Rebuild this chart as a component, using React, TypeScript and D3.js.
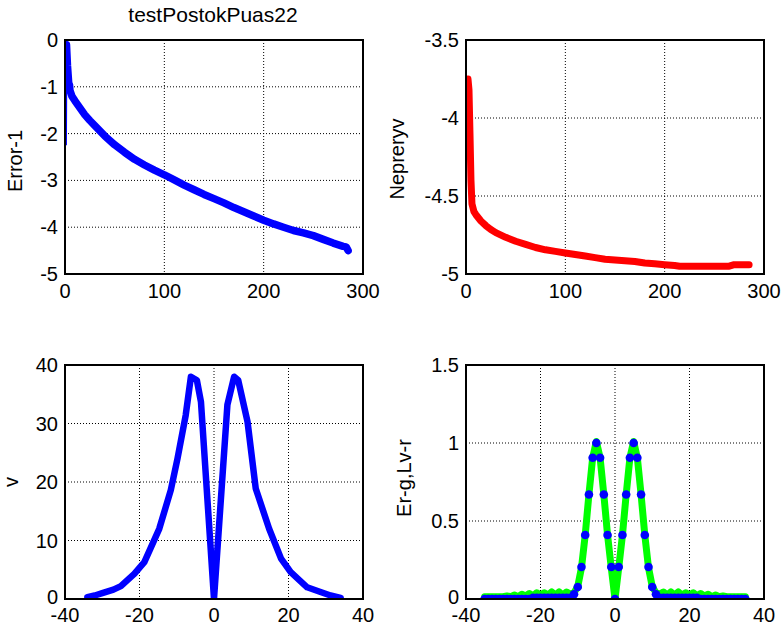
import React from "react";
import * as d3 from "d3";

// ---------- Data ----------
const titleText = "testPostokPuas22";

// Panel 1: Error-1
const errStartX = [0.7, 1.2, 2.5, 4];
const errStartY = [-2.25, 0, -0.6, -1.0];
const errX = [1.5, 2.5, 4, 4.5, 5, 7, 10, 15, 20, 25, 30, 40, 50, 60, 70, 80, 90, 100, 110, 120, 130, 140, 150, 160, 170, 180, 190, 200, 210, 220, 230, 240, 250, 260, 270, 280, 283, 285];
const errY = [-0.1, -0.55, -1.0, -0.95, -1.08, -1.2, -1.3, -1.45, -1.6, -1.72, -1.83, -2.05, -2.24, -2.4, -2.55, -2.67, -2.78, -2.88, -2.99, -3.1, -3.2, -3.3, -3.39, -3.48, -3.58, -3.67, -3.76, -3.85, -3.93, -4.0, -4.07, -4.12, -4.18, -4.26, -4.34, -4.41, -4.42, -4.5];

// Panel 2: Nepreryv
const nepX = [2, 3, 4, 5, 6, 8, 10, 15, 20, 25, 30, 40, 50, 60, 70, 80, 90, 100, 110, 120, 130, 140, 150, 160, 170, 180, 190, 200, 210, 215, 265, 270, 285];
const nepY = [-3.75, -3.82, -4.1, -4.4, -4.55, -4.6, -4.62, -4.66, -4.69, -4.715, -4.735, -4.765, -4.79, -4.81, -4.83, -4.845, -4.855, -4.865, -4.875, -4.885, -4.895, -4.905, -4.91, -4.915, -4.92, -4.93, -4.935, -4.94, -4.945, -4.95, -4.95, -4.94, -4.94];

// Panel 3: v
const vX = [-34, -32, -30, -27, -25, -21.4, -18.7, -14.7, -11.6, -9.8, -7.6, -6.2, -4.6, -3.5, 0, 3.6, 5.4, 6.5, 9, 11.2, 14.8, 18, 20.6, 25, 28.6, 31.3, 34];
const vY = [0.3, 0.6, 1.0, 1.6, 2.2, 4.3, 6.3, 12, 18.6, 24, 31.4, 38, 37.4, 33.7, 0, 33.2, 38, 37.4, 30.3, 18.9, 12, 6.9, 4.6, 2, 1.2, 0.6, 0.2];

// Panel 4: Er (green) and Lv (blue dots), x = -35..35
const egX = d3.range(-35, 36);
const erY = [
  // -35 .. -12
  0.015, 0.015, 0.015, 0.015, 0.015, 0.015, 0.02, 0.015, 0.025, 0.015, 0.03, 0.02, 0.035, 0.02, 0.04, 0.025, 0.04, 0.025, 0.045, 0.025, 0.045, 0.025, 0.045, 0.03,
  // -11 .. -1
  0.04, 0.08, 0.2, 0.41, 0.67, 0.905, 1.01, 0.905, 0.67, 0.41, 0.2,
  // 0
  0.0,
  // 1 .. 11
  0.2, 0.41, 0.67, 0.905, 1.01, 0.905, 0.67, 0.41, 0.2, 0.08, 0.04,
  // 12 .. 35
  0.03, 0.045, 0.025, 0.045, 0.025, 0.045, 0.025, 0.04, 0.025, 0.04, 0.02, 0.035, 0.02, 0.03, 0.015, 0.025, 0.015, 0.02, 0.015, 0.015, 0.015, 0.015, 0.015, 0.015
];
const lvY = [
  // -35 .. -12
  0, 0, 0, 0, 0, 0, 0, 0, 0, 0, 0, 0, 0, 0.008, 0.008, 0.008, 0.008, 0.008, 0.008, 0.008, 0.008, 0.008, 0.008, 0.008,
  // -11 .. -1
  0.03, 0.077, 0.205, 0.41, 0.67, 0.905, 1.0, 0.905, 0.67, 0.41, 0.205,
  // 0
  0.0,
  // 1 .. 11
  0.205, 0.41, 0.67, 0.905, 1.0, 0.905, 0.67, 0.41, 0.205, 0.077, 0.03,
  // 12 .. 35
  0.008, 0.008, 0.008, 0.008, 0.008, 0.008, 0.008, 0.008, 0.008, 0.008, 0.008, 0, 0, 0, 0, 0, 0, 0, 0, 0, 0, 0, 0, 0
];

const tlXTicks = [0, 100, 200, 300];
const tlYTicks = [0, -1, -2, -3, -4, -5];
const trYTicks = [-3.5, -4, -4.5, -5];
const bXTicks = [-40, -20, 0, 20, 40];
const blYTicks = [0, 10, 20, 30, 40];
const brYTicks = [0, 0.5, 1, 1.5];

const FONT = "'Liberation Sans', Arial, sans-serif";

type PanelProps = {
  left: number; top: number; width: number; height: number;
  xDomain: [number, number]; yDomain: [number, number];
  xTicks: number[]; yTicks: number[];
  yLabel: string; yLabelX: number; yLabelDy: number;
  xTickDy: number;
  children: (x: d3.ScaleLinear<number, number>, y: d3.ScaleLinear<number, number>) => React.ReactNode;
};

function Panel(p: PanelProps) {
  const x = d3.scaleLinear().domain(p.xDomain).range([p.left, p.left + p.width]);
  const y = d3.scaleLinear().domain(p.yDomain).range([p.top + p.height, p.top]);
  const clipId = `clip-${p.left}-${p.top}`;
  const fmt = (v: number) => String(v);
  return (
    <g>
      <defs>
        <clipPath id={clipId}>
          <rect x={p.left} y={p.top} width={p.width} height={p.height} />
        </clipPath>
      </defs>
      {p.xTicks.filter(t => t !== p.xDomain[0] && t !== p.xDomain[1]).map(t => (
        <line key={"gx" + t} x1={x(t)} x2={x(t)} y1={p.top} y2={p.top + p.height}
          stroke="#000" strokeWidth={1} strokeDasharray="1,2" />
      ))}
      {p.yTicks.filter(t => t !== p.yDomain[0] && t !== p.yDomain[1]).map(t => (
        <line key={"gy" + t} y1={y(t)} y2={y(t)} x1={p.left} x2={p.left + p.width}
          stroke="#000" strokeWidth={1} strokeDasharray="1,2" />
      ))}
      <g clipPath={`url(#${clipId})`}>{p.children(x, y)}</g>
      <rect x={p.left} y={p.top} width={p.width} height={p.height} fill="none" stroke="#000" strokeWidth={2} />
      {p.xTicks.map(t => (
        <text key={"tx" + t} x={x(t)} y={p.top + p.height + p.xTickDy} textAnchor="middle"
          fontFamily={FONT} fontSize={20} fill="#000">{fmt(t)}</text>
      ))}
      {p.yTicks.map(t => (
        <text key={"ty" + t} x={p.left - 7} y={y(t)} dy={t === p.yDomain[0] && p.xDomain[0] < 0 ? "0.25em" : "0.35em"} textAnchor="end"
          fontFamily={FONT} fontSize={20} fill="#000">{fmt(t)}</text>
      ))}
      <text transform={`translate(${p.yLabelX},${p.top + p.height / 2 + p.yLabelDy}) rotate(-90)`} textAnchor="middle"
        fontFamily={FONT} fontSize={20} fill="#000">{p.yLabel}</text>
    </g>
  );
}

export default function App() {
  const W = 784, H = 630;
  return (
    <svg width={W} height={H} style={{ position: "absolute", left: 0, top: 0, background: "#fff" }}>
      <rect width={W} height={H} fill="#fff" />
      <text x={213} y={22} textAnchor="middle" fontFamily={FONT} fontSize={21} fill="#000">{titleText}</text>

      <Panel left={65} top={40} width={298} height={234} xDomain={[0, 300]} yDomain={[-5, 0]}
        xTicks={tlXTicks} yTicks={tlYTicks} yLabel="Error-1" yLabelX={22} yLabelDy={4} xTickDy={24}>
        {(x, y) => {
          const l1 = d3.line<number>().x(d => x(d)).y((_, i) => y(errStartY[i]));
          const l2 = d3.line<number>().x(d => x(d)).y((_, i) => y(errY[i]));
          return (
            <g>
              <path d={l1(errStartX) || ""} fill="none" stroke="#0000ff" strokeWidth={2.5} strokeLinejoin="round" />
              <path d={l2(errX) || ""} fill="none" stroke="#0000ff" strokeWidth={7.5} strokeLinejoin="round" strokeLinecap="round" />
            </g>
          );
        }}
      </Panel>

      <Panel left={466} top={40} width={298} height={234} xDomain={[0, 300]} yDomain={[-5, -3.5]}
        xTicks={tlXTicks} yTicks={trYTicks} yLabel="Nepreryv" yLabelX={404} yLabelDy={2} xTickDy={24}>
        {(x, y) => {
          const l = d3.line<number>().x(d => x(d)).y((_, i) => y(nepY[i]));
          return <path d={l(nepX) || ""} fill="none" stroke="#ff0000" strokeWidth={7} strokeLinejoin="round" strokeLinecap="round" />;
        }}
      </Panel>

      <Panel left={65} top={365} width={298} height={234} xDomain={[-40, 40]} yDomain={[0, 40]}
        xTicks={bXTicks} yTicks={blYTicks} yLabel="v" yLabelX={18} yLabelDy={0} xTickDy={23}>
        {(x, y) => {
          const l = d3.line<number>().x(d => x(d)).y((_, i) => y(vY[i]));
          return <path d={l(vX) || ""} fill="none" stroke="#0000ff" strokeWidth={6.5} strokeLinejoin="round" strokeLinecap="round" />;
        }}
      </Panel>

      <Panel left={466} top={365} width={298} height={234} xDomain={[-40, 40]} yDomain={[0, 1.5]}
        xTicks={bXTicks} yTicks={brYTicks} yLabel="Er-g,Lv-r" yLabelX={411} yLabelDy={-4} xTickDy={23}>
        {(x, y) => {
          const l = d3.line<number>().x(d => x(d)).y((_, i) => y(erY[i]));
          return (
            <g>
              <path d={l(egX) || ""} fill="none" stroke="#00ff00" strokeWidth={7} strokeLinejoin="round" strokeLinecap="round" />
              {egX.map((d, i) => (
                <circle key={i} cx={x(d)} cy={y(lvY[i])} r={4.3} fill="#0000ff" />
              ))}
            </g>
          );
        }}
      </Panel>
    </svg>
  );
}
